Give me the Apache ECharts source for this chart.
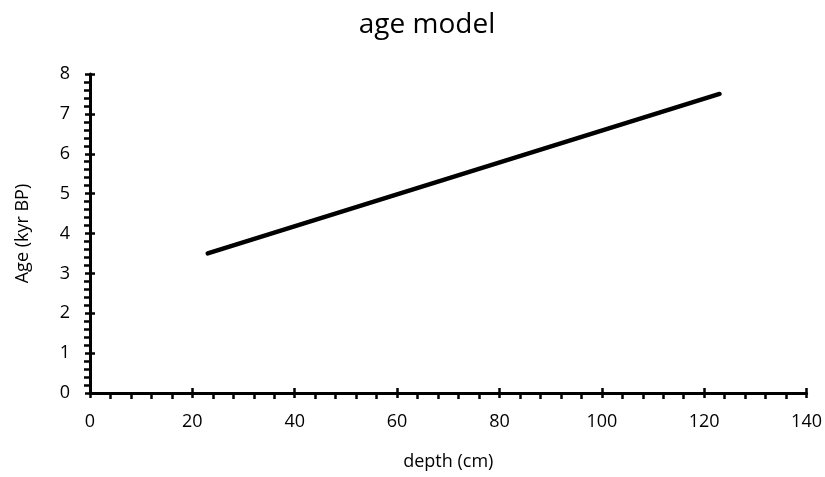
<!DOCTYPE html>
<html>
<head>
<meta charset="utf-8">
<script src="https://cdn.jsdelivr.net/npm/echarts@6/dist/echarts.min.js"></script>
<style>html,body{margin:0;padding:0;background:#fff}#c{width:825px;height:477px}</style>
</head>
<body>
<div id="c"></div>
<script>
var titleText = 'age model';
var xName = 'depth (cm)';
var yName = 'Age (kyr BP)';
var depth = [23, 123];
var age = [3.5, 7.5];
var xMin = 0, xMax = 140, xStep = 20;
var yMin = 0, yMax = 8, yStep = 1;

var font = '"Open Sans", "Noto Sans", sans-serif';
var chart = echarts.init(document.getElementById('c'));
var lineStyleAxis = {color: '#000', width: 3};
var tickStyle = {color: '#000', width: 2.5};
chart.setOption({
  animation: false,
  title: {text: titleText, left: 422, textAlign: 'center', top: 6, textStyle: {fontFamily: font, fontSize: 28, fontWeight: 'normal', color: '#000'}},
  grid: {left: 90, right: 18, top: 74, bottom: 84, containLabel: false},
  xAxis: [{
    type: 'value', min: xMin, max: xMax, interval: xStep, position: 'bottom',
    name: xName, nameLocation: 'middle', nameGap: 60,
    nameTextStyle: {fontFamily: font, fontSize: 18, color: '#000'},
    axisLine: {show: true, onZero: false, lineStyle: lineStyleAxis},
    axisTick: {show: true, inside: false, length: 5, lineStyle: tickStyle},
    minorTick: {show: true, splitNumber: 5, length: 6, lineStyle: tickStyle},
    axisLabel: {fontFamily: font, fontSize: 18, color: '#000', margin: 20},
    splitLine: {show: false}
  }, {
    type: 'value', min: xMin, max: xMax, interval: xStep, position: 'bottom',
    axisLine: {show: false},
    axisTick: {show: true, inside: true, length: 5, lineStyle: tickStyle},
    axisLabel: {show: false}, splitLine: {show: false}
  }],
  yAxis: [{
    type: 'value', min: yMin, max: yMax, interval: yStep, position: 'left',
    name: yName, nameLocation: 'middle', nameGap: 58, nameRotate: 90,
    nameTextStyle: {fontFamily: font, fontSize: 18, color: '#000'},
    axisLine: {show: true, onZero: false, lineStyle: lineStyleAxis},
    axisTick: {show: true, inside: false, length: 5, lineStyle: tickStyle},
    minorTick: {show: true, splitNumber: 5, length: 6, lineStyle: tickStyle},
    axisLabel: {fontFamily: font, fontSize: 18, color: '#000', margin: 20},
    splitLine: {show: false}
  }, {
    type: 'value', min: yMin, max: yMax, interval: yStep, position: 'left',
    axisLine: {show: false},
    axisTick: {show: true, inside: true, length: 5, lineStyle: tickStyle},
    axisLabel: {show: false}, splitLine: {show: false}
  }],
  series: [{
    type: 'line', xAxisIndex: 0, yAxisIndex: 0,
    data: depth.map(function (d, i) { return [d, age[i]]; }),
    showSymbol: false, symbol: 'none',
    lineStyle: {color: '#000', width: 4.5, cap: 'round'}
  }]
});
</script>
</body>
</html>
